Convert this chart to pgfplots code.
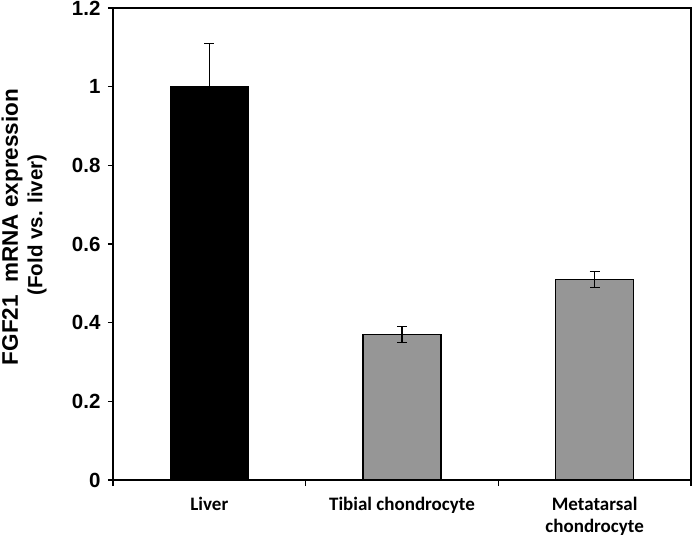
\documentclass[border=0pt]{standalone}
\usepackage{fontspec}
\setmainfont{Liberation Sans}
\newfontfamily\carlito{Carlito}
\usepackage{pgfplots}
\pgfplotsset{compat=1.18}
\definecolor{bargray}{RGB}{150,150,150}
\begin{document}
\begin{tikzpicture}
\begin{axis}[
  scale only axis, width=578pt, height=472pt,
  xmin=0, xmax=3, ymin=0, ymax=1.2,
  axis line style={line width=1.6pt},
  tick style={line width=1.4pt, black},
  tick align=outside,
  ytick={0,0.2,0.4,0.6,0.8,1,1.2},
  ytick pos=left,
  major tick length=5pt,
  yticklabel style={font=\bfseries\fontsize{20.5}{20.5}\selectfont, /pgf/number format/assume math mode=true, xshift=-4pt},
  /pgf/number format/fixed,
  xtick={0.5,1.5,2.5},
  xticklabels={Liver, Tibial chondrocyte, Metatarsal\\chondrocyte},
  major x tick style={draw=none},
  minor xtick={0,1,2,3},
  minor tick length=6pt,
  xtick pos=bottom,
  xticklabel style={font=\carlito\bfseries\fontsize{19}{22}\selectfont, align=center, anchor=north, yshift=-9pt},
  ybar, bar width=78pt, bar shift=0pt,
]
\coordinate (ll) at (rel axis cs:0,0);
\coordinate (ur) at (rel axis cs:1,1);
\addplot[fill=black, draw=black, line width=1.3pt,
  error bars/.cd, y dir=both, y explicit,
  error bar style={line width=1.5pt, black},
  error mark options={rotate=90, mark size=5pt, line width=1.5pt, black}]
  coordinates {(0.5,1.0) +- (0,0.11)};
\addplot[fill=bargray, draw=black, line width=1.3pt,
  error bars/.cd, y dir=both, y explicit,
  error bar style={line width=1.5pt, black},
  error mark options={rotate=90, mark size=5pt, line width=1.5pt, black}]
  coordinates {(1.5,0.37) +- (0,0.02) (2.5,0.51) +- (0,0.02)};
\end{axis}
\node[rotate=90, font=\bfseries\fontsize{22.5}{24}\selectfont, inner sep=0pt] at ([shift={(-101pt,253pt)}]ll) {FGF21\ \ mRNA expression};
\node[rotate=90, font=\bfseries\fontsize{20.5}{22}\selectfont, inner sep=0pt] at ([shift={(-76pt,255pt)}]ll) {(Fold vs. liver)};
\pgfresetboundingbox
\path ([shift={(-113pt,-58pt)}]ll) rectangle ([shift={(2pt,8pt)}]ur);
\end{tikzpicture}
\end{document}
